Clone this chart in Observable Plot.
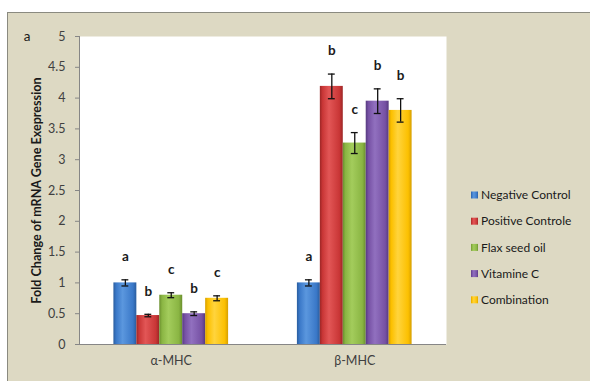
<!DOCTYPE html>
<html>
<head>
<meta charset="utf-8">
<script src="https://cdn.jsdelivr.net/npm/d3@7"></script>
<script src="https://cdn.jsdelivr.net/npm/@observablehq/plot@0.6"></script>
<style>
  body { margin: 0; background: #ffffff; }
  #chart svg { display: block; }
</style>
</head>
<body>
<div id="chart"></div>
<script>
// Gene groups and treatments
const groups = ["α-MHC", "β-MHC"];
const treatments = ["Negative Control", "Positive Controle", "Flax seed oil", "Vitamine C", "Combination"];

// Fold change (mean) and error per treatment
const alphaMean = [1.00, 0.47, 0.80, 0.50, 0.75];
const alphaErr  = [0.05, 0.02, 0.04, 0.03, 0.04];
const alphaSig  = ["a", "b", "c", "b", "c"];

const betaMean = [1.00, 4.19, 3.27, 3.95, 3.80];
const betaErr  = [0.05, 0.20, 0.17, 0.20, 0.19];
const betaSig  = ["a", "b", "c", "b", "b"];

const yTicks = [0, 0.5, 1, 1.5, 2, 2.5, 3, 3.5, 4, 4.5, 5];

// Bar colours: [base, highlight, edge]
const colors = [
  ["#3a78c8", "#5b97de", "#2a5d9e"],
  ["#c93636", "#e25656", "#9c2626"],
  ["#8ab543", "#a3cc5c", "#6a8f2e"],
  ["#7651a4", "#9170bf", "#573a80"],
  ["#fcc000", "#ffd43d", "#d69f00"]
];

// Layout along x in bar-width units: outer pad, 5 bars, gap, 5 bars, outer pad
const outerPad = 1.5, groupGap = 3, nBars = treatments.length;
const xSpan = 2 * outerPad + 2 * nBars + groupGap;
const groupStart = g => outerPad + g * (nBars + groupGap);
const capHalf = 0.15;

const means = [alphaMean, betaMean], errs = [alphaErr, betaErr], sigs = [alphaSig, betaSig];
const rows = groups.flatMap((group, g) => treatments.map((t, i) => ({
  group, treatment: t, i,
  x0: groupStart(g) + i,
  mean: means[g][i],
  err: errs[g][i],
  sig: sigs[g][i]
})));

const W = 590, H = 381;
const font = "Lato, 'Open Sans', sans-serif";

// Gradient definitions for the bars and legend swatches
function gradients() {
  const defs = d3.create("svg:defs");
  colors.forEach(([base, light, edge], i) => {
    const grad = defs.append("linearGradient")
      .attr("id", `bar-grad-${i}`).attr("x1", 0).attr("x2", 1).attr("y1", 0).attr("y2", 0);
    [[0, edge], [0.12, base], [0.4, light], [0.85, base], [1, edge]].forEach(([o, c]) =>
      grad.append("stop").attr("offset", o).attr("stop-color", c));
  });
  return defs.node();
}

// Tan chart-area panel with a border on its top and left
function panel() {
  return d3.create("svg:rect")
    .attr("x", 7.5).attr("y", 12.5)
    .attr("width", W).attr("height", H)
    .attr("fill", "#ddd9c3").attr("stroke", "#8a8a80")
    .node();
}

const chart = Plot.plot({
  width: W,
  height: H,
  marginLeft: 79,
  marginRight: 144,
  marginTop: 36,
  marginBottom: 37,
  style: { fontFamily: font, background: "transparent", overflow: "visible" },
  x: { domain: [0, xSpan], axis: null },
  y: { domain: [0, 5], axis: null },
  marks: [
    gradients,
    panel,
    Plot.frame({ fill: "#ffffff", stroke: null }),
    Plot.rect(rows, {
      x1: "x0",
      x2: d => d.x0 + 1,
      y1: () => 0,
      y2: "mean",
      fill: d => `url(#bar-grad-${d.i})`
    }),
    Plot.ruleX(rows, {
      x: d => d.x0 + 0.5, y1: d => d.mean - d.err, y2: d => d.mean + d.err,
      stroke: "#111", strokeWidth: 1.3
    }),
    Plot.ruleY(rows, {
      y: d => d.mean + d.err, x1: d => d.x0 + 0.5 - capHalf, x2: d => d.x0 + 0.5 + capHalf,
      stroke: "#111", strokeWidth: 1.3
    }),
    Plot.ruleY(rows, {
      y: d => d.mean - d.err, x1: d => d.x0 + 0.5 - capHalf, x2: d => d.x0 + 0.5 + capHalf,
      stroke: "#111", strokeWidth: 1.3
    }),
    Plot.text(rows, {
      x: d => d.x0 + 0.5, y: d => d.mean + d.err, text: "sig",
      dy: -23, fontSize: 13.5, fontWeight: "bold", fill: "#1a1a1a"
    }),
    Plot.axisY({
      ticks: yTicks, tickFormat: d => String(d), tickSize: 4, tickPadding: 10,
      fontSize: 12.5, color: "#404040", stroke: "#868686", label: null
    }),
    Plot.ruleX([0], { stroke: "#868686" }),
    Plot.ruleY([0], { stroke: "#868686" }),
    Plot.text(groups, {
      x: (d, g) => groupStart(g) + nBars / 2,
      frameAnchor: "bottom", dy: 20, fontSize: 12.5, fill: "#404040"
    }),
    Plot.text(["Fold Change of mRNA Gene Exepression"], {
      frameAnchor: "left", textAnchor: "middle", dx: -43, rotate: -90,
      fontSize: 12.6, fontWeight: "bold", fill: "#1a1a1a"
    })
  ]
});

const svg = d3.select(chart);

// Panel letter
svg.append("text")
  .attr("x", 27).attr("y", 36).attr("dy", "0.35em")
  .attr("text-anchor", "middle")
  .attr("font-size", 13.5).attr("fill", "#1a1a1a")
  .text("a");

// Legend
const legend = svg.append("g")
  .attr("font-family", font).attr("font-size", 12)
  .attr("fill", "#1a1a1a").attr("text-anchor", "start");
treatments.forEach((t, i) => {
  const y = 195 + i * 26.2;
  legend.append("rect")
    .attr("x", 471).attr("y", y - 3.5).attr("width", 7).attr("height", 7)
    .attr("fill", `url(#bar-grad-${i})`);
  legend.append("text")
    .attr("x", 481).attr("y", y).attr("dy", "0.35em")
    .text(t);
});

document.getElementById("chart").appendChild(chart);
</script>
</body>
</html>
